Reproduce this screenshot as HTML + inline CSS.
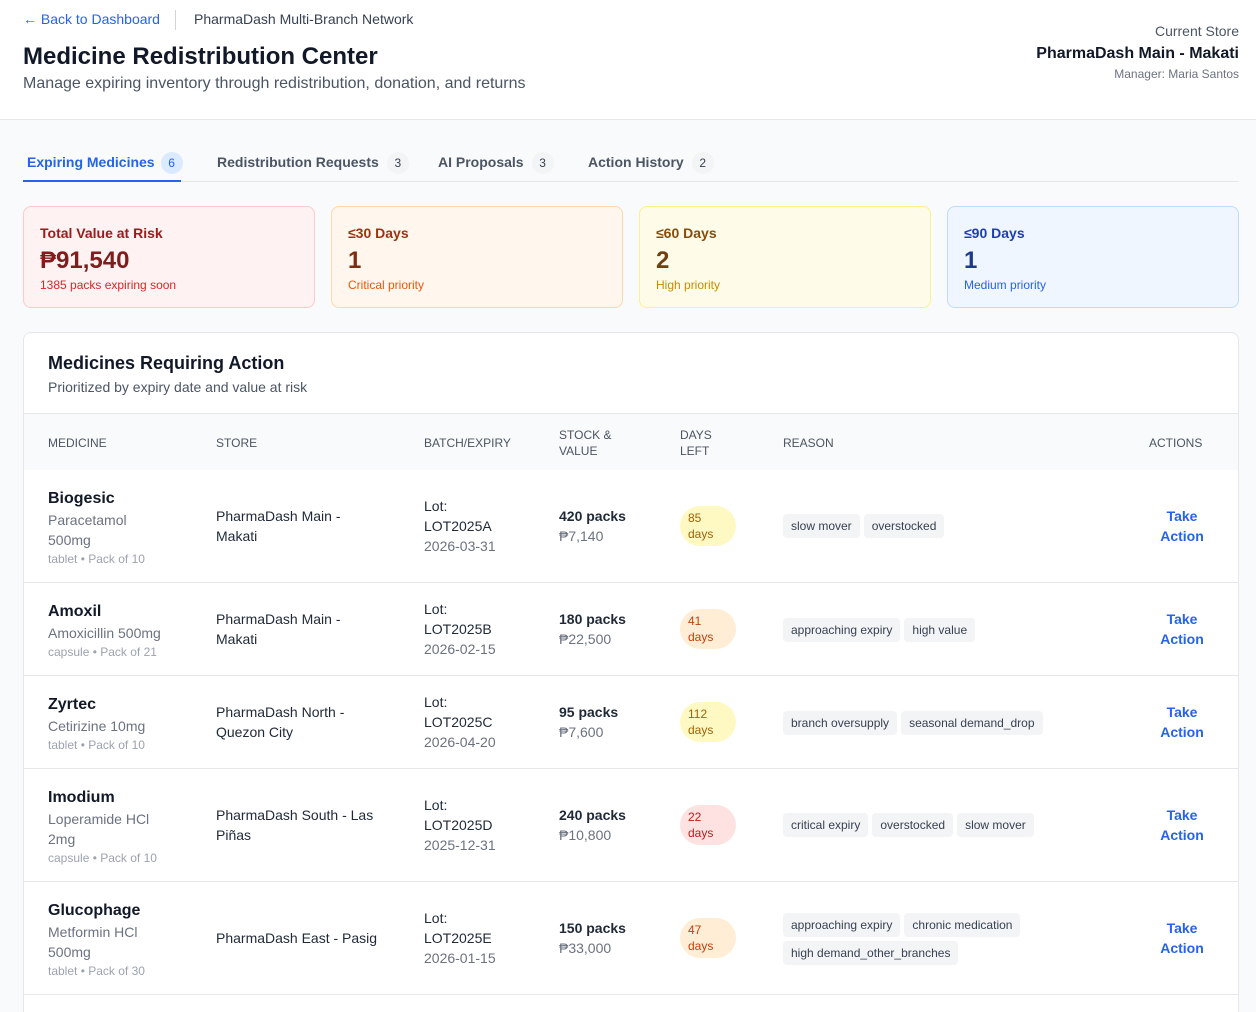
<!DOCTYPE html>
<html style="height:1012px;overflow:hidden"><head><meta charset="utf-8"><style>
*{box-sizing:border-box;margin:0;padding:0}
body{width:1256px;height:1012px;overflow:hidden;background:#f9fafb;font-family:"Liberation Sans",sans-serif;color:#111827;position:relative}
.hdr{position:absolute;left:0;top:0;width:1256px;height:120px;background:#fff;border-bottom:1px solid #e5e7eb}
.abs{position:absolute;white-space:nowrap}
.tabs{position:absolute;left:23px;top:150px;width:1216px;height:32px;border-bottom:1px solid #e5e7eb}
.tab{position:absolute;top:0;font-size:14px;color:#4b5563;height:31px;line-height:24px;white-space:nowrap}
.cnt{display:inline-block;width:22px;height:22px;border-radius:11px;background:#f3f4f6;text-align:center;line-height:22px;font-size:12px;margin-left:8px;color:#374151;font-weight:normal}
.stat{position:absolute;top:206px;width:292px;height:102px;border:1px solid;border-radius:8px;padding:16px 16px}
.stat .t{font-size:14px;font-weight:bold;line-height:20px}
.stat .v{font-size:24px;font-weight:bold;line-height:34px;margin-top:1px}
.stat .s{font-size:12px;line-height:14px}
.card{position:absolute;left:23px;top:332px;width:1216px;height:680px;background:#fff;border:1px solid #e5e7eb;border-bottom:none;border-radius:8px 8px 0 0;overflow:hidden}
.th{position:absolute;left:0;top:80px;width:1216px;height:57px;background:#f9fafb;border-top:1px solid #e5e7eb;font-size:12px;color:#4b5563}
.th div{position:absolute;top:0;height:57px;display:flex;align-items:center;line-height:16px}
.row{position:absolute;left:0;width:1216px;border-bottom:1px solid #e5e7eb}
.c{position:absolute;top:0;height:100%;display:flex;flex-direction:column;justify-content:center}
.nm{font-size:16px;font-weight:bold;line-height:22px;margin-top:4px}
.gn{font-size:14px;color:#6b7280;line-height:20px}
.sm{font-size:12px;color:#9ca3af;line-height:19px}
.tx{font-size:14px;line-height:20px;color:#1f2937}
.badge{width:56px;height:40px;border-radius:20px;font-size:12px;line-height:16px;padding:4px 0 0 8px}
.tag{display:inline-block;background:#f3f4f6;border-radius:4px;font-size:12px;color:#374151;padding:0 8px;height:24px;line-height:24px;margin:2px 4px 2px 0}
.act{font-size:14px;font-weight:bold;color:#2563eb;line-height:20px;text-align:center}
</style></head><body>
<div class="hdr">
 <div class="abs" style="left:23px;top:11px;font-size:14px;color:#2563eb">← Back to Dashboard</div>
 <div class="abs" style="left:175px;top:10px;width:1px;height:20px;background:#d1d5db"></div>
 <div class="abs" style="left:194px;top:11px;font-size:14px;color:#374151">PharmaDash Multi-Branch Network</div>
 <div class="abs" style="left:23px;top:43px;font-size:24px;font-weight:bold">Medicine Redistribution Center</div>
 <div class="abs" style="left:23px;top:75px;font-size:16px;color:#4b5563">Manage expiring inventory through redistribution, donation, and returns</div>
 <div class="abs" style="right:17px;top:23px;font-size:14px;color:#4b5563;text-align:right">Current Store</div>
 <div class="abs" style="right:17px;top:45px;font-size:16px;font-weight:bold;text-align:right">PharmaDash Main - Makati</div>
 <div class="abs" style="right:17px;top:67px;font-size:12px;color:#6b7280;text-align:right">Manager: Maria Santos</div>
</div>
<div class="tabs">
 <div class="tab" style="left:0;padding:0 4px;color:#2563eb;font-weight:bold;border-bottom:2px solid #2563eb;width:158px;height:32px">Expiring Medicines<span class="cnt" style="background:#dbeafe;color:#2563eb;margin-left:6px">6</span></div>
 <div class="tab" style="left:194px;font-weight:bold">Redistribution Requests<span class="cnt">3</span></div>
 <div class="tab" style="left:415px;font-weight:bold">AI Proposals<span class="cnt">3</span></div>
 <div class="tab" style="left:565px;font-weight:bold">Action History<span class="cnt">2</span></div>
</div>
<div class="stat" style="left:23px;background:#fef2f2;border-color:#fecaca"><div class="t" style="color:#991b1b">Total Value at Risk</div><div class="v" style="color:#7f1d1d">₱91,540</div><div class="s" style="color:#dc2626">1385 packs expiring soon</div></div>
<div class="stat" style="left:331px;background:#fff7ed;border-color:#fed7aa"><div class="t" style="color:#9a3412">≤30 Days</div><div class="v" style="color:#7c2d12">1</div><div class="s" style="color:#ea580c">Critical priority</div></div>
<div class="stat" style="left:639px;background:#fefce8;border-color:#fef08a"><div class="t" style="color:#854d0e">≤60 Days</div><div class="v" style="color:#713f12">2</div><div class="s" style="color:#ca8a04">High priority</div></div>
<div class="stat" style="left:947px;background:#eff6ff;border-color:#bfdbfe"><div class="t" style="color:#1e40af">≤90 Days</div><div class="v" style="color:#1e3a8a">1</div><div class="s" style="color:#2563eb">Medium priority</div></div>
<div class="card">
 <div class="abs" style="left:24px;top:20px;font-size:18px;font-weight:bold">Medicines Requiring Action</div>
 <div class="abs" style="left:24px;top:46px;font-size:14px;color:#4b5563">Prioritized by expiry date and value at risk</div>
 <div class="th">
  <div style="left:24px">MEDICINE</div><div style="left:192px">STORE</div><div style="left:400px">BATCH/EXPIRY</div>
  <div style="left:535px">STOCK &amp;<br>VALUE</div><div style="left:656px">DAYS<br>LEFT</div><div style="left:759px">REASON</div><div style="left:1125px">ACTIONS</div>
 </div>
 <div class="row" style="top:137px;height:113px">
  <div class="c" style="left:24px"><div class="nm">Biogesic</div><div class="gn">Paracetamol<br>500mg</div><div class="sm">tablet • Pack of 10</div></div>
  <div class="c tx" style="left:192px">PharmaDash Main -<br>Makati</div>
  <div class="c tx" style="left:400px"><div>Lot:<br>LOT2025A</div><div style="color:#6b7280">2026-03-31</div></div>
  <div class="c tx" style="left:535px"><div style="font-weight:bold">420 packs</div><div style="color:#6b7280">₱7,140</div></div>
  <div class="c" style="left:656px"><div class="badge" style="background:#fef9c3;color:#a16207">85<br>days</div></div>
  <div class="c" style="left:759px;display:block;padding-top:42px"><span class="tag">slow mover</span><span class="tag">overstocked</span></div>
  <div class="c act" style="left:1128px;width:60px">Take<br>Action</div>
 </div>
 <div class="row" style="top:250px;height:93px">
  <div class="c" style="left:24px"><div class="nm">Amoxil</div><div class="gn">Amoxicillin 500mg</div><div class="sm">capsule • Pack of 21</div></div>
  <div class="c tx" style="left:192px">PharmaDash Main -<br>Makati</div>
  <div class="c tx" style="left:400px"><div>Lot:<br>LOT2025B</div><div style="color:#6b7280">2026-02-15</div></div>
  <div class="c tx" style="left:535px"><div style="font-weight:bold">180 packs</div><div style="color:#6b7280">₱22,500</div></div>
  <div class="c" style="left:656px"><div class="badge" style="background:#ffedd5;color:#c2410c">41<br>days</div></div>
  <div class="c" style="left:759px;display:block;padding-top:33px"><span class="tag">approaching expiry</span><span class="tag">high value</span></div>
  <div class="c act" style="left:1128px;width:60px">Take<br>Action</div>
 </div>
 <div class="row" style="top:343px;height:93px">
  <div class="c" style="left:24px"><div class="nm">Zyrtec</div><div class="gn">Cetirizine 10mg</div><div class="sm">tablet • Pack of 10</div></div>
  <div class="c tx" style="left:192px">PharmaDash North -<br>Quezon City</div>
  <div class="c tx" style="left:400px"><div>Lot:<br>LOT2025C</div><div style="color:#6b7280">2026-04-20</div></div>
  <div class="c tx" style="left:535px"><div style="font-weight:bold">95 packs</div><div style="color:#6b7280">₱7,600</div></div>
  <div class="c" style="left:656px"><div class="badge" style="background:#fef9c3;color:#a16207">112<br>days</div></div>
  <div class="c" style="left:759px;display:block;padding-top:33px"><span class="tag">branch oversupply</span><span class="tag">seasonal demand_drop</span></div>
  <div class="c act" style="left:1128px;width:60px">Take<br>Action</div>
 </div>
 <div class="row" style="top:436px;height:113px">
  <div class="c" style="left:24px"><div class="nm">Imodium</div><div class="gn">Loperamide HCl<br>2mg</div><div class="sm">capsule • Pack of 10</div></div>
  <div class="c tx" style="left:192px">PharmaDash South - Las<br>Piñas</div>
  <div class="c tx" style="left:400px"><div>Lot:<br>LOT2025D</div><div style="color:#6b7280">2025-12-31</div></div>
  <div class="c tx" style="left:535px"><div style="font-weight:bold">240 packs</div><div style="color:#6b7280">₱10,800</div></div>
  <div class="c" style="left:656px"><div class="badge" style="background:#fee2e2;color:#b91c1c">22<br>days</div></div>
  <div class="c" style="left:759px;display:block;padding-top:42px"><span class="tag">critical expiry</span><span class="tag">overstocked</span><span class="tag">slow mover</span></div>
  <div class="c act" style="left:1128px;width:60px">Take<br>Action</div>
 </div>
 <div class="row" style="top:549px;height:113px">
  <div class="c" style="left:24px"><div class="nm">Glucophage</div><div class="gn">Metformin HCl<br>500mg</div><div class="sm">tablet • Pack of 30</div></div>
  <div class="c tx" style="left:192px">PharmaDash East - Pasig</div>
  <div class="c tx" style="left:400px"><div>Lot:<br>LOT2025E</div><div style="color:#6b7280">2026-01-15</div></div>
  <div class="c tx" style="left:535px"><div style="font-weight:bold">150 packs</div><div style="color:#6b7280">₱33,000</div></div>
  <div class="c" style="left:656px"><div class="badge" style="background:#ffedd5;color:#c2410c">47<br>days</div></div>
  <div class="c" style="left:759px;display:block;padding-top:29px;width:280px;white-space:normal"><span class="tag">approaching expiry</span><span class="tag">chronic medication</span><span class="tag">high demand_other_branches</span></div>
  <div class="c act" style="left:1128px;width:60px">Take<br>Action</div>
 </div>
</div>
</body></html>
